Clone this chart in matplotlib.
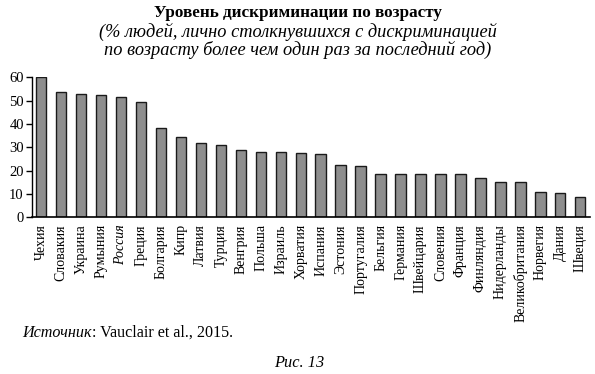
import matplotlib
matplotlib.use("Agg")
from matplotlib import pyplot as plt
import numpy as np

plt.rcParams['font.family'] = ['Liberation Serif', 'DejaVu Serif']

countries = ["Чехия", "Словакия", "Украина", "Румыния", "Россия", "Греция",
             "Болгария", "Кипр", "Латвия", "Турция", "Венгрия", "Польша",
             "Израиль", "Хорватия", "Испания", "Эстония", "Португалия",
             "Бельгия", "Германия", "Швейцария", "Словения", "Франция",
             "Финляндия", "Нидерланды", "Великобритания", "Норвегия",
             "Дания", "Швеция"]
values = [60.0, 53.6, 53.0, 52.5, 51.4, 49.4,
          38.4, 34.4, 32.0, 30.9, 29.0, 27.9,
          27.9, 27.5, 27.1, 22.6, 22.1,
          18.6, 18.6, 18.6, 18.6, 18.6,
          17.0, 15.0, 15.0, 11.0,
          10.6, 8.6]
yticks = [0, 10, 20, 30, 40, 50, 60]

fig = plt.figure(figsize=(5.95, 3.74), dpi=100)
ax = fig.add_axes([0.054, 0.419, 0.938, 0.374])

x = np.arange(len(countries))
ax.bar(x, values, width=0.52, color="#8e8e8e", edgecolor="#1a1a1a", linewidth=1.0)

ax.set_xlim(-0.45, len(countries) - 0.5)
ax.set_ylim(0, 60)
ax.set_yticks(yticks)
ax.set_yticklabels([str(t) for t in yticks], fontsize=10.5)
ax.set_xticks(x)
ax.set_xticklabels(countries, rotation=90, fontsize=10)
for lbl in ax.get_xticklabels():
    if lbl.get_text() == "Россия":
        lbl.set_style("italic")
ax.tick_params(axis='x', length=0, pad=5)
ax.tick_params(axis='y', length=4, width=1, pad=2)

for side in ["top", "right"]:
    ax.spines[side].set_visible(False)
ax.spines["left"].set_linewidth(1.0)
ax.spines["bottom"].set_linewidth(1.2)

fig.text(0.5, 0.964, "Уровень дискриминации по возрасту", ha="center", va="center",
         fontsize=12.3, fontweight="bold")
fig.text(0.5, 0.914, "(% людей, лично столкнувшихся с дискриминацией", ha="center", va="center",
         fontsize=13.2, style="italic")
fig.text(0.5, 0.866, "по возрасту более чем один раз за последний год)", ha="center", va="center",
         fontsize=13.2, style="italic")

src = fig.text(0.037, 0.11, "Источник", ha="left", va="center", fontsize=11.6, style="italic")
fig.canvas.draw()
bb = src.get_window_extent()
x_end = fig.transFigure.inverted().transform((bb.x1, bb.y0))[0]
fig.text(x_end, 0.11, ": Vauclair et al., 2015.", ha="left", va="center", fontsize=11.6)

fig.text(0.503, 0.03, "Рис. 13", ha="center", va="center", fontsize=11.8, style="italic")

fig.savefig("out.png", dpi=100)
